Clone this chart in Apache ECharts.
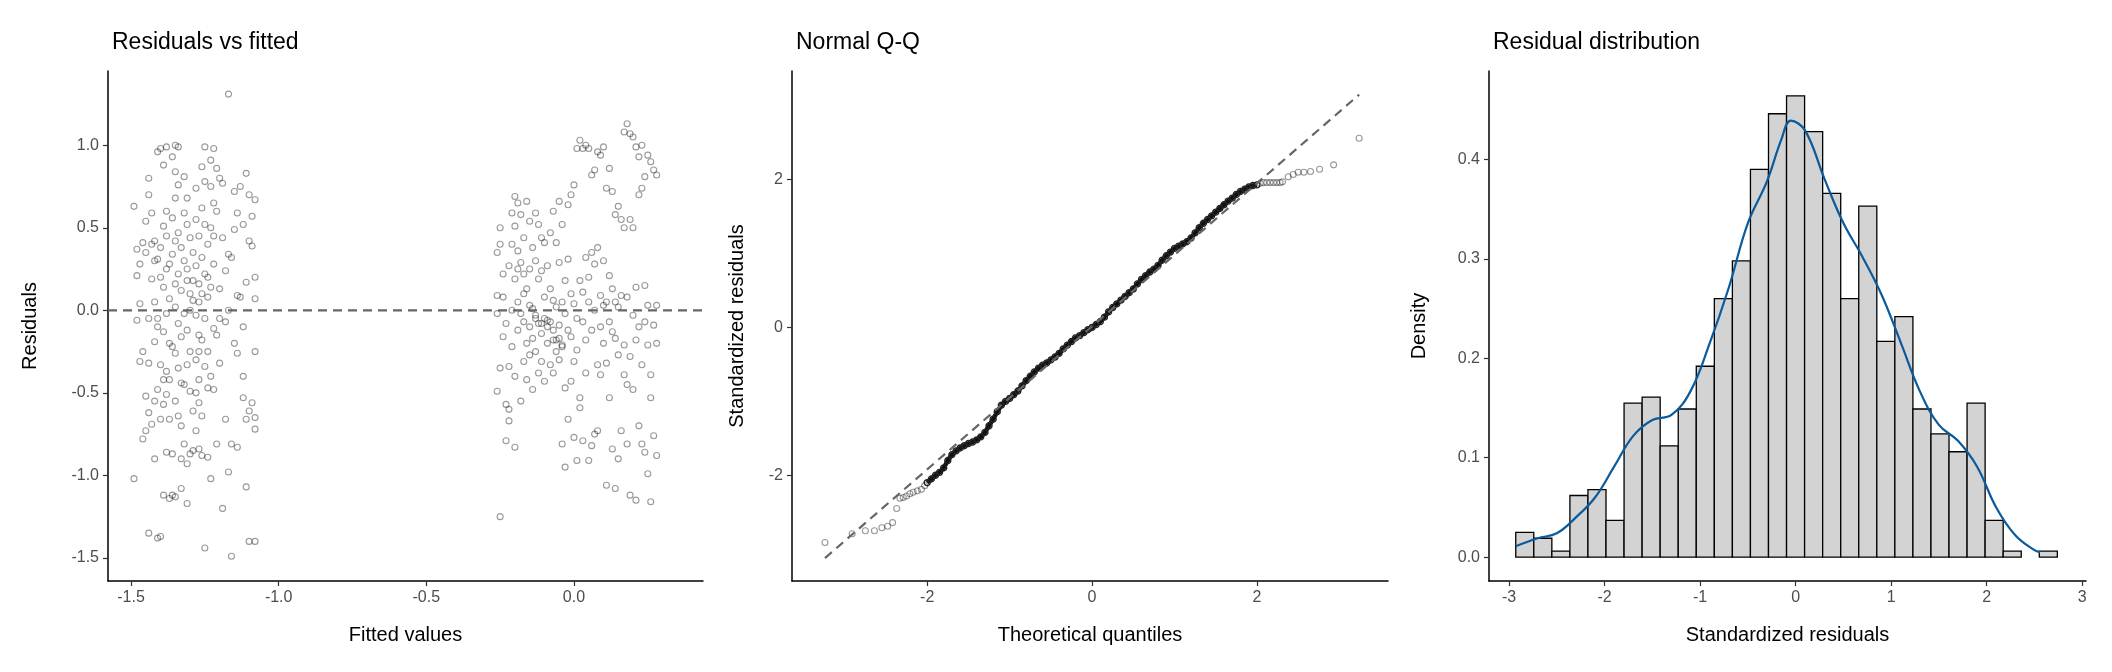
<!DOCTYPE html>
<html>
<head>
<meta charset="utf-8">
<script src="https://cdn.jsdelivr.net/npm/echarts@6/dist/echarts.min.js"></script>
<style>
  html, body { margin: 0; padding: 0; background: #fff; }
  #chart { width: 2112px; height: 672px; }
</style>
</head>
<body>
<div id="chart"></div>
<script>
// Residuals vs fitted: [fitted, residual]
const residPoints = [
  [-1.49,0.63],[-1.48,0.37],[-1.48,0.21],[-1.47,0.04],[-1.48,-0.06],[-1.47,0.28],[-1.46,0.41],[-1.45,0.54],[-1.44,0.70],[-1.44,0.80],
  [-1.46,-0.25],[-1.47,-0.31],[-1.49,-1.02],[-1.45,-0.52],[-1.44,-0.62],[-1.45,-0.73],[-1.46,-0.78],[-1.43,-0.69],[-1.42,-0.90],[-1.44,-1.35],
  [-1.41,-1.38],[-1.40,-1.37],[-1.39,-1.12],[-1.43,0.59],[-1.42,0.42],[-1.41,0.31],[-1.43,0.19],[-1.42,0.05],[-1.44,-0.05],[-1.41,-0.10],
  [-1.42,-0.19],[-1.40,-0.33],[-1.41,-0.48],[-1.42,-0.55],[-1.40,-0.66],[-1.41,0.96],[-1.40,0.98],[-1.39,0.88],[-1.38,0.99],[-1.38,0.60],
  [-1.39,0.51],[-1.38,0.45],[-1.40,0.38],[-1.38,0.25],[-1.39,0.14],[-1.37,0.07],[-1.38,-0.02],[-1.39,-0.13],[-1.37,-0.20],[-1.38,-0.37],
  [-1.37,-0.42],[-1.38,-0.51],[-1.39,-0.57],[-1.37,-0.66],[-1.38,-0.86],[-1.36,-0.87],[-1.37,-1.14],[-1.35,-1.13],[-1.36,-1.12],[-1.35,1.0],
  [-1.36,0.93],[-1.35,0.84],[-1.34,0.76],[-1.35,0.68],[-1.36,0.56],[-1.34,0.47],[-1.35,0.42],[-1.36,0.34],[-1.34,0.22],[-1.35,0.16],
  [-1.33,0.12],[-1.35,0.02],[-1.34,-0.08],[-1.33,-0.16],[-1.35,-0.26],[-1.34,-0.35],[-1.33,-0.44],[-1.35,-0.55],[-1.34,-0.64],[-1.33,-0.70],
  [-1.32,-0.81],[-1.33,-0.90],[-1.31,-1.17],[-1.33,-1.08],[-1.34,0.99],[-1.32,0.81],[-1.31,0.68],[-1.32,0.59],[-1.31,0.52],[-1.30,0.44],
  [-1.32,0.30],[-1.31,0.18],[-1.30,0.10],[-1.32,-0.02],[-1.31,-0.12],[-1.30,-0.25],[-1.31,-0.33],[-1.30,-0.49],[-1.29,-0.61],[-1.30,-0.87],
  [-1.29,-0.85],[-1.31,-0.93],[-1.28,0.74],[-1.28,0.55],[-1.27,0.45],[-1.29,0.35],[-1.28,0.27],[-1.27,0.16],[-1.29,0.06],[-1.28,-0.03],
  [-1.27,-0.15],[-1.28,-0.30],[-1.27,-0.42],[-1.28,-0.50],[-1.27,-0.56],[-1.28,-0.73],[-1.26,-0.88],[-1.27,-0.84],[-1.25,0.99],[-1.26,0.87],
  [-1.25,0.78],[-1.26,0.62],[-1.25,0.52],[-1.24,0.40],[-1.26,0.32],[-1.25,0.22],[-1.24,0.08],[-1.25,-0.05],[-1.26,-0.18],[-1.24,-0.25],
  [-1.25,-0.34],[-1.24,-0.47],[-1.26,-0.64],[-1.25,-1.44],[-1.24,-0.89],[-1.23,0.91],[-1.22,0.98],[-1.23,0.75],[-1.22,0.65],[-1.23,0.50],
  [-1.22,0.28],[-1.23,0.14],[-1.22,-0.11],[-1.23,-0.40],[-1.22,-0.48],[-1.23,-1.02],[-1.21,0.86],[-1.21,0.60],[-1.20,0.13],[-1.21,-0.15],
  [-1.20,-0.32],[-1.21,-0.81],[-1.20,0.80],[-1.19,0.77],[-1.19,-1.20],[-1.18,0.24],[-1.18,-0.66],[-1.17,0.34],[-1.17,1.31],[-1.17,0.00],
  [-1.17,-0.98],[-1.16,-0.81],[-1.16,0.32],[-1.15,0.72],[-1.16,-1.49],[-1.15,0.49],[-1.14,0.09],[-1.14,-0.26],[-1.14,0.59],[-1.15,-0.20],
  [-1.14,-0.83],[-1.13,0.75],[-1.13,0.08],[-1.12,-0.40],[-1.12,0.52],[-1.12,-0.10],[-1.11,0.83],[-1.11,0.17],[-1.11,-0.66],[-1.12,-0.53],
  [-1.10,0.70],[-1.10,0.42],[-1.09,0.39],[-1.10,-0.61],[-1.09,-0.56],[-1.09,0.57],[-1.08,0.67],[-1.08,0.20],[-1.08,0.07],[-1.08,-0.25],
  [-1.08,-0.65],[-1.08,-0.72],[-1.11,-1.07],[-1.10,-1.40],[-1.08,-1.40],[-1.18,-0.07],[-1.19,0.44],
  [-1.45,0.35],[-1.43,0.40],[-1.42,0.30],[-1.40,0.20],[-1.37,0.28],[-1.33,0.38],[-1.31,0.25],[-1.29,0.18],[-1.27,0.05],[-1.26,0.10],
  [-1.44,-0.32],[-1.41,-0.05],[-1.39,-0.42],[-1.36,-0.22],[-1.32,-0.45],[-1.30,0.00],[-1.27,-0.25],[-1.24,0.20],[-1.22,0.45],[-1.20,-0.05],
  [-0.26,0.35],[-0.26,0.09],[-0.26,-0.02],[-0.25,-0.35],[-0.26,-0.49],[-0.25,-1.25],[-0.25,0.50],[-0.25,0.40],[-0.24,0.22],[-0.24,-0.16],
  [-0.24,0.08],[-0.23,-0.08],[-0.23,-0.57],[-0.23,-0.79],[-0.22,-0.34],[-0.22,0.27],[-0.22,-0.60],[-0.22,-0.67],[-0.21,0.59],[-0.21,0.40],
  [-0.21,0.00],[-0.21,-0.22],[-0.20,0.69],[-0.20,0.51],[-0.20,0.19],[-0.20,-0.40],[-0.20,-0.83],[-0.19,0.65],[-0.19,0.36],[-0.19,0.05],
  [-0.19,-0.12],[-0.18,0.58],[-0.18,0.29],[-0.18,-0.02],[-0.18,-0.55],[-0.17,0.44],[-0.17,0.22],[-0.17,-0.07],[-0.17,-0.31],[-0.16,0.66],
  [-0.16,0.13],[-0.16,-0.20],[-0.16,-0.42],[-0.15,0.54],[-0.15,0.25],[-0.15,-0.10],[-0.15,-0.27],[-0.14,0.38],[-0.14,0.01],[-0.14,-0.17],
  [-0.14,-0.48],[-0.13,0.59],[-0.13,0.30],[-0.13,-0.03],[-0.13,-0.25],[-0.12,0.52],[-0.12,0.19],[-0.12,-0.08],[-0.12,-0.38],[-0.11,0.44],
  [-0.11,0.24],[-0.11,-0.14],[-0.11,-0.31],[-0.10,0.41],[-0.10,0.08],[-0.10,-0.05],[-0.10,-0.43],[-0.09,0.27],[-0.09,-0.10],[-0.09,-0.20],
  [-0.08,0.47],[-0.08,0.13],[-0.08,-0.07],[-0.08,-0.33],[-0.07,0.60],[-0.07,0.06],[-0.07,-0.18],[-0.07,-0.38],[-0.06,0.41],[-0.06,0.02],
  [-0.06,-0.25],[-0.05,0.66],[-0.05,0.29],[-0.05,-0.09],[-0.05,-0.30],[-0.04,0.52],[-0.04,0.05],[-0.04,-0.21],[-0.04,-0.81],[-0.03,0.18],
  [-0.03,-0.02],[-0.03,-0.47],[-0.03,-0.95],[-0.02,0.64],[-0.02,0.31],[-0.02,-0.12],[-0.02,-0.66],[-0.01,0.70],[-0.01,0.10],[-0.01,-0.16],
  [-0.01,-0.43],[0.00,0.76],[0.00,0.04],[0.00,-0.31],[0.00,-0.77],[0.01,0.98],[0.01,-0.05],[0.01,-0.24],[0.01,-0.91],[0.02,1.03],
  [0.02,0.18],[0.02,-0.53],[0.02,-0.59],[0.03,0.98],[0.03,0.11],[0.03,-0.07],[0.03,-0.79],[0.04,1.00],[0.04,0.32],[0.04,-0.18],
  [0.04,-0.38],[0.05,0.98],[0.05,0.20],[0.05,0.05],[0.05,-0.91],[0.06,0.82],[0.06,0.35],[0.06,-0.12],[0.06,-0.82],[0.07,0.85],
  [0.07,0.28],[0.07,0.00],[0.07,-0.75],[0.08,0.96],[0.08,0.38],[0.08,-0.33],[0.08,-0.73],[0.09,0.94],[0.09,0.09],[0.09,-0.10],
  [0.09,-0.39],[0.10,0.99],[0.10,0.30],[0.10,0.03],[0.10,-0.20],[0.11,0.74],[0.11,0.05],[0.11,-0.32],[0.11,-1.06],[0.12,0.86],
  [0.12,0.21],[0.12,-0.07],[0.12,-0.53],[0.13,0.72],[0.13,0.13],[0.13,-0.13],[0.13,-0.84],[0.14,0.58],[0.14,0.05],[0.14,-0.17],
  [0.14,-1.08],[0.15,0.63],[0.15,0.02],[0.15,-0.27],[0.15,-0.90],[0.16,0.55],[0.16,0.09],[0.16,-0.73],[0.17,1.08],[0.17,0.50],
  [0.17,-0.21],[0.17,-0.39],[0.18,1.13],[0.18,0.08],[0.18,-0.45],[0.18,-0.81],[0.19,1.07],[0.19,0.55],[0.19,-0.28],[0.19,-1.12],
  [0.20,1.05],[0.20,0.50],[0.20,-0.03],[0.20,-0.48],[0.21,0.99],[0.21,0.14],[0.21,-0.18],[0.21,-1.15],[0.22,0.93],[0.22,0.70],
  [0.22,-0.10],[0.22,-0.70],[0.23,1.00],[0.23,0.74],[0.23,-0.33],[0.23,-0.81],[0.24,0.81],[0.24,0.15],[0.24,-0.07],[0.24,-0.86],
  [0.25,0.94],[0.25,0.03],[0.25,-0.21],[0.25,-0.99],[0.26,0.90],[0.26,-0.39],[0.26,-0.53],[0.26,-1.16],[0.27,0.85],[0.27,-0.09],
  [0.27,-0.76],[0.28,0.82],[0.28,0.03],[0.28,-0.20],[0.28,-0.88],
  [-0.13,-0.05],[-0.11,-0.08],[-0.09,-0.06],[-0.07,-0.12],[-0.05,-0.17],[-0.04,-0.22],[-0.15,0.03],[-0.17,0.10],[-0.19,0.25],[-0.06,-0.18]
];

// Normal Q-Q, sparse tails: [theoretical quantile, standardized residual]
const qqTails = [
  [-3.24,-2.91],[-2.91,-2.79],[-2.75,-2.75],[-2.64,-2.75],[-2.55,-2.71],[-2.48,-2.69],[-2.42,-2.64],[-2.37,-2.45],
  [-2.33,-2.31],[-2.29,-2.30],[-2.25,-2.28],[-2.21,-2.25],[-2.17,-2.23],[-2.12,-2.21],[-2.07,-2.19],[-2.03,-2.14],
  [2.04,1.95],[2.08,1.96],[2.12,1.96],[2.16,1.96],[2.20,1.96],[2.24,1.96],[2.28,1.96],[2.31,1.97],
  [2.38,2.04],[2.44,2.07],[2.50,2.10],[2.57,2.10],[2.65,2.11],[2.76,2.14],[2.93,2.20],[3.24,2.56]
];
// Normal Q-Q, dense body where the points merge into a thick dark line
const qqBody = [
  [-2.00,-2.10],[-1.95,-2.05],[-1.90,-2.00],[-1.85,-1.96],[-1.80,-1.90],[-1.75,-1.80],[-1.70,-1.72],[-1.65,-1.67],
  [-1.60,-1.63],[-1.55,-1.60],[-1.50,-1.57],[-1.45,-1.55],[-1.40,-1.52],[-1.35,-1.48],[-1.30,-1.42],[-1.25,-1.33],
  [-1.20,-1.24],[-1.15,-1.14],[-1.10,-1.05],[-1.05,-1.00],[-1.00,-0.96],[-0.95,-0.91],[-0.90,-0.86],[-0.85,-0.79],
  [-0.80,-0.72],[-0.75,-0.66],[-0.70,-0.60],[-0.65,-0.55],[-0.60,-0.51],[-0.55,-0.48],[-0.50,-0.44],[-0.45,-0.40],
  [-0.40,-0.35],[-0.35,-0.29],[-0.30,-0.24],[-0.25,-0.19],[-0.20,-0.14],[-0.15,-0.11],[-0.10,-0.07],[-0.05,-0.03],
  [0.00,0.00],[0.05,0.04],[0.10,0.08],[0.15,0.14],[0.20,0.21],[0.25,0.27],[0.30,0.32],[0.35,0.37],
  [0.40,0.42],[0.45,0.47],[0.50,0.52],[0.55,0.59],[0.60,0.65],[0.65,0.70],[0.70,0.75],[0.75,0.79],
  [0.80,0.84],[0.85,0.91],[0.90,0.97],[0.95,1.02],[1.00,1.07],[1.05,1.10],[1.10,1.13],[1.15,1.16],
  [1.20,1.21],[1.25,1.28],[1.30,1.35],[1.35,1.41],[1.40,1.46],[1.45,1.51],[1.50,1.56],[1.55,1.61],
  [1.60,1.66],[1.65,1.71],[1.70,1.75],[1.75,1.80],[1.80,1.84],[1.85,1.87],[1.90,1.90],[1.95,1.92],[2.00,1.93]
];
const qqLine = [[-3.24,-3.12],[3.24,3.15]];

// Histogram of standardized residuals
const binMin = -2.93;
const binWidth = 0.189;
const densities = [
  0.025,0.019,0.006,0.062,0.068,0.037,0.155,0.161,0.112,0.149,
  0.192,0.260,0.298,0.390,0.446,0.464,0.428,0.366,0.260,0.353,
  0.217,0.242,0.149,0.124,0.106,0.155,0.037,0.006,0,0.006
];
// Kernel density estimate
const kdeX = [-2.93,-2.7,-2.5,-2.3,-2.1,-1.9,-1.7,-1.5,-1.3,-1.1,-0.9,-0.7,-0.5,-0.3,-0.15,-0.05,0.1,0.3,0.5,0.7,0.9,1.1,1.3,1.5,1.7,1.9,2.1,2.3,2.5,2.56];
const kdeY = [0.011,0.019,0.024,0.040,0.060,0.091,0.122,0.138,0.143,0.167,0.215,0.271,0.336,0.378,0.420,0.439,0.429,0.381,0.336,0.302,0.264,0.216,0.167,0.133,0.117,0.091,0.050,0.022,0.007,0.005];

const FONT = 'Liberation Sans, Arial, sans-serif';
const AXLINE = { show: true, onZero: false, lineStyle: { color: '#000', width: 1.5 } };
const TICK = { show: true, length: 5, lineStyle: { color: '#333', width: 1.2 } };
const LABEL = { color: '#4d4d4d', fontSize: 16, fontFamily: FONT, margin: 9 };
const NAME = { color: '#000', fontSize: 20, fontFamily: FONT };

function xAxis(grid, min, max, ticks, name, fmt) {
  return {
    type: 'value', gridIndex: grid, min: min, max: max, name: name,
    nameLocation: 'middle', nameGap: 44, nameTextStyle: NAME,
    axisLine: AXLINE, axisTick: Object.assign({ customValues: ticks }, TICK),
    axisLabel: Object.assign({ customValues: ticks, formatter: fmt }, LABEL),
    splitLine: { show: false }
  };
}
function yAxis(grid, min, max, ticks, name, gap, fmt) {
  return {
    type: 'value', gridIndex: grid, min: min, max: max, name: name,
    nameLocation: 'middle', nameGap: gap, nameTextStyle: NAME,
    axisLine: AXLINE, axisTick: Object.assign({ customValues: ticks }, TICK),
    axisLabel: Object.assign({ customValues: ticks, formatter: fmt }, LABEL),
    splitLine: { show: false }
  };
}
const f1 = v => v.toFixed(1);
const f0 = v => String(Math.round(v));
const TITLE = { fontSize: 23, fontWeight: 'normal', fontFamily: FONT, color: '#000' };
const hollow = { color: 'rgba(0,0,0,0)', borderColor: 'rgba(0,0,0,0.5)', borderWidth: 1.1 };

const chart = echarts.init(document.getElementById('chart'), null, { renderer: 'canvas' });
chart.setOption({
  animation: false,
  backgroundColor: '#fff',
  title: [
    { text: 'Residuals vs fitted', left: 107, top: 26, textStyle: TITLE },
    { text: 'Normal Q-Q', left: 791, top: 26, textStyle: TITLE },
    { text: 'Residual distribution', left: 1488, top: 26, textStyle: TITLE }
  ],
  grid: [
    { left: 108, top: 71, width: 595, height: 510 },
    { left: 792, top: 71, width: 596, height: 510 },
    { left: 1489, top: 71, width: 597, height: 510 }
  ],
  xAxis: [
    xAxis(0, -1.578, 0.437, [-1.5, -1.0, -0.5, 0.0], 'Fitted values', f1),
    xAxis(1, -3.64, 3.59, [-2, 0, 2], 'Theoretical quantiles', f0),
    xAxis(2, -3.21, 3.04, [-3, -2, -1, 0, 1, 2, 3], 'Standardized residuals', f0)
  ],
  yAxis: [
    yAxis(0, -1.64, 1.45, [-1.5, -1.0, -0.5, 0.0, 0.5, 1.0], 'Residuals', 68, f1),
    yAxis(1, -3.43, 3.47, [-2, 0, 2], 'Standardized residuals', 45, f0),
    yAxis(2, -0.024, 0.489, [0, 0.1, 0.2, 0.3, 0.4], 'Density', 60, f1)
  ],
  series: [
    {
      type: 'scatter', xAxisIndex: 0, yAxisIndex: 0, data: residPoints, symbolSize: 6,
      itemStyle: hollow, z: 2
    },
    {
      type: 'line', xAxisIndex: 0, yAxisIndex: 0, data: [[-1.578, 0], [0.437, 0]],
      symbol: 'none', lineStyle: { color: '#666', width: 2.2, type: [9, 6] }, z: 3
    },
    {
      type: 'scatter', xAxisIndex: 1, yAxisIndex: 1, data: qqTails, symbolSize: 6,
      itemStyle: hollow, z: 2
    },
    {
      type: 'line', xAxisIndex: 1, yAxisIndex: 1, data: qqBody, symbol: 'circle', symbolSize: 6,
      showSymbol: true, smooth: false,
      lineStyle: { color: '#111', width: 4.5 },
      itemStyle: { color: 'rgba(0,0,0,0)', borderColor: '#222', borderWidth: 1.4 }, z: 2
    },
    {
      type: 'line', xAxisIndex: 1, yAxisIndex: 1, data: qqLine, symbol: 'none',
      lineStyle: { color: '#666', width: 2.2, type: [9, 6] }, z: 3
    },
    {
      type: 'custom', xAxisIndex: 2, yAxisIndex: 2,
      data: densities.map((d, i) => [binMin + i * binWidth, binMin + (i + 1) * binWidth, d]),
      renderItem: function (params, api) {
        const h = api.value(2);
        if (h <= 0) return null;
        const p0 = api.coord([api.value(0), 0]);
        const p1 = api.coord([api.value(1), h]);
        return {
          type: 'rect',
          shape: { x: p0[0], y: p1[1], width: p1[0] - p0[0], height: p0[1] - p1[1] },
          style: { fill: '#d3d3d3', stroke: '#000', lineWidth: 1.3 }
        };
      },
      z: 2
    },
    {
      type: 'line', xAxisIndex: 2, yAxisIndex: 2, smooth: 0.4, symbol: 'none',
      data: kdeX.map((x, i) => [x, kdeY[i]]),
      lineStyle: { color: '#0b5a9c', width: 2.2 }, z: 3
    }
  ]
});
</script>
</body>
</html>
